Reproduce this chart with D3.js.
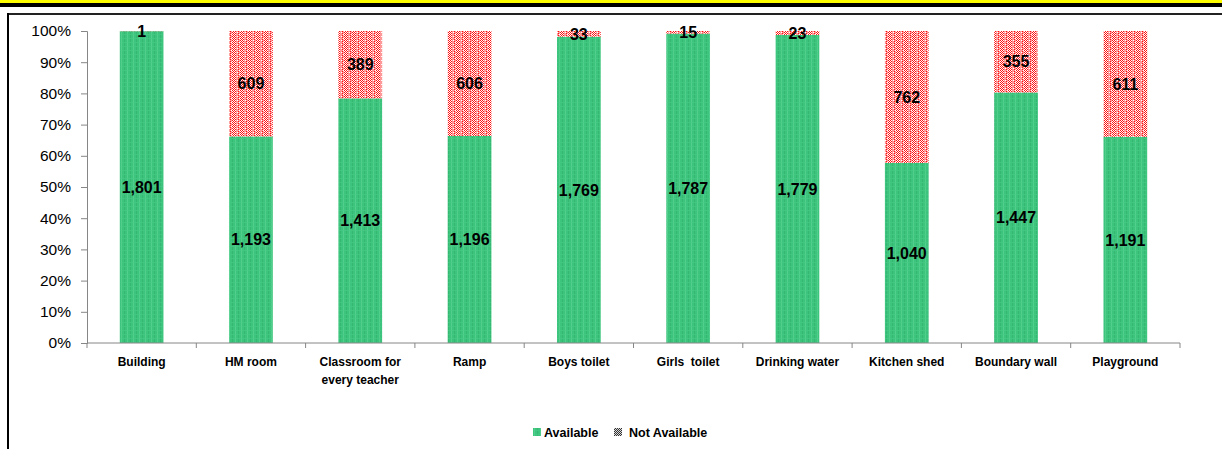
<!DOCTYPE html>
<html>
<head>
<meta charset="utf-8">
<script src="https://cdn.jsdelivr.net/npm/d3@7"></script>
<style>
  body { margin: 0; background: #fff; }
  svg { display: block; font-family: "Liberation Sans", Arial, sans-serif; }
</style>
</head>
<body>
<div id="chart"></div>
<script>
// data
const categories = ['Building', 'HM room', 'Classroom for\nevery teacher', 'Ramp', 'Boys toilet',
    'Girls  toilet', 'Drinking water', 'Kitchen shed', 'Boundary wall', 'Playground'];
const available = [1801, 1193, 1413, 1196, 1769, 1787, 1779, 1040, 1447, 1191];
const notAvailable = [1, 609, 389, 606, 33, 15, 23, 762, 355, 611];
const yTicks = [0, 0.1, 0.2, 0.3, 0.4, 0.5, 0.6, 0.7, 0.8, 0.9, 1];
const seriesNames = ['Available', 'Not Available'];

const width = 1222, height = 449;
const plot = { left: 87, right: 1180, top: 31, bottom: 343 };

const svg = d3.select('#chart').append('svg')
    .attr('width', width)
    .attr('height', height);

// patterns for the fills
const defs = svg.append('defs');

const green = defs.append('pattern')
    .attr('id', 'pGreen').attr('patternUnits', 'userSpaceOnUse')
    .attr('width', 6).attr('height', 4);
green.append('rect').attr('width', 6).attr('height', 4).attr('fill', '#3dc47c');
green.append('rect').attr('x', 1).attr('width', 1).attr('height', 4).attr('fill', '#52cf8c');
green.append('rect').attr('x', 4).attr('width', 1).attr('height', 4).attr('fill', '#34b872');
green.append('rect').attr('y', 2).attr('width', 6).attr('height', 1).attr('fill', '#47c985').attr('opacity', 0.7);

const red = defs.append('pattern')
    .attr('id', 'pRed').attr('patternUnits', 'userSpaceOnUse')
    .attr('width', 8).attr('height', 4);
red.append('rect').attr('width', 8).attr('height', 4).attr('fill', '#ff9999');
[[0, 0], [2, 0], [1, 1], [3, 1], [0, 2], [2, 2], [1, 3], [3, 3], [6, 1], [6, 3]].forEach(([x, y]) => {
    red.append('rect').attr('x', x).attr('y', y).attr('width', 1).attr('height', 1).attr('fill', '#ff1010');
});
[[1, 0], [3, 0], [0, 1], [2, 1], [1, 2], [3, 2], [0, 3], [2, 3], [5, 0], [7, 2]].forEach(([x, y]) => {
    red.append('rect').attr('x', x).attr('y', y).attr('width', 1).attr('height', 1).attr('fill', '#ffffff');
});

const grey = defs.append('pattern')
    .attr('id', 'pGrey').attr('patternUnits', 'userSpaceOnUse')
    .attr('width', 2).attr('height', 2);
grey.append('rect').attr('width', 2).attr('height', 2).attr('fill', '#d8d8d8');
grey.append('rect').attr('width', 1).attr('height', 1).attr('fill', '#333');
grey.append('rect').attr('x', 1).attr('y', 1).attr('width', 1).attr('height', 1).attr('fill', '#333');

// frame: yellow/black band on top, border line and left edge
svg.append('rect').attr('x', 0).attr('y', 0).attr('width', width).attr('height', 3).attr('fill', '#ffff00');
svg.append('rect').attr('x', 0).attr('y', 3).attr('width', width).attr('height', 4).attr('fill', '#000');
svg.append('rect').attr('x', 7).attr('y', 13).attr('width', width - 7).attr('height', 2).attr('fill', '#222');
svg.append('rect').attr('x', 7).attr('y', 13).attr('width', 2).attr('height', height - 13).attr('fill', '#000');

// scales
const x = d3.scaleBand()
    .domain(categories)
    .range([plot.left, plot.right])
    .paddingInner(0.6)
    .paddingOuter(0.3);

const y = d3.scaleLinear()
    .domain([0, 1])
    .range([plot.bottom, plot.top]);

const rows = categories.map((c, i) => {
    const total = available[i] + notAvailable[i];
    return { cat: c, a: available[i], n: notAvailable[i], pa: available[i] / total };
});

// bars
const g = svg.append('g');
g.selectAll('.avail').data(rows).join('rect')
    .attr('class', 'avail')
    .attr('x', d => x(d.cat))
    .attr('width', x.bandwidth())
    .attr('y', d => y(d.pa))
    .attr('height', d => y(0) - y(d.pa))
    .attr('fill', 'url(#pGreen)');

g.selectAll('.notavail').data(rows).join('rect')
    .attr('class', 'notavail')
    .attr('x', d => x(d.cat))
    .attr('width', x.bandwidth())
    .attr('y', y(1))
    .attr('height', d => y(d.pa) - y(1))
    .attr('fill', 'url(#pRed)');

// axes
const yAxis = svg.append('g')
    .attr('transform', `translate(${plot.left},0)`)
    .call(d3.axisLeft(y).tickValues(yTicks).tickFormat(d3.format('.0%')).tickSize(6).tickPadding(10));
yAxis.select('.domain').attr('stroke', '#868686');
yAxis.selectAll('.tick line').attr('stroke', '#868686');
yAxis.selectAll('.tick text').attr('font-size', 15.5).attr('fill', '#000')
    .attr('font-family', '"Liberation Sans", Arial, sans-serif');

const xAxis = svg.append('g')
    .attr('transform', `translate(0,${plot.bottom})`);
xAxis.append('line')
    .attr('x1', plot.left).attr('x2', plot.right)
    .attr('stroke', '#868686');
const step = x.step();
xAxis.selectAll('.xtick').data(d3.range(categories.length + 1)).join('line')
    .attr('class', 'xtick')
    .attr('x1', i => plot.left + i * step)
    .attr('x2', i => plot.left + i * step)
    .attr('y1', 0).attr('y2', 5)
    .attr('stroke', '#868686');

xAxis.selectAll('.xlabel').data(categories).join('text')
    .attr('class', 'xlabel')
    .attr('x', d => x(d) + x.bandwidth() / 2)
    .attr('y', 23)
    .attr('text-anchor', 'middle')
    .attr('font-size', 12)
    .attr('font-weight', 'bold')
    .selectAll('tspan')
    .data(d => d.split('\n'))
    .join('tspan')
        .attr('x', function () { return d3.select(this.parentNode).attr('x'); })
        .attr('dy', (d, i) => i === 0 ? 0 : 18)
        .style('white-space', 'pre')
        .text(d => d);

// data labels
const fmt = d3.format(',');
g.selectAll('.lblA').data(rows).join('text')
    .attr('class', 'lblA')
    .attr('x', d => x(d.cat) + x.bandwidth() / 2)
    .attr('y', d => (y(0) + y(d.pa)) / 2)
    .attr('dy', '0.36em')
    .attr('text-anchor', 'middle')
    .attr('font-size', 16)
    .attr('font-weight', 'bold')
    .text(d => fmt(d.a));

g.selectAll('.lblN').data(rows).join('text')
    .attr('class', 'lblN')
    .attr('x', d => x(d.cat) + x.bandwidth() / 2)
    .attr('y', d => (y(1) + y(d.pa)) / 2)
    .attr('dy', '0.36em')
    .attr('text-anchor', 'middle')
    .attr('font-size', 16)
    .attr('font-weight', 'bold')
    .text(d => fmt(d.n));

// legend
const legend = svg.append('g').attr('transform', 'translate(533,428)');
const legendX = [0, 81];
const legendFill = ['url(#pGreen)', 'url(#pGrey)'];
seriesNames.forEach((s, i) => {
    legend.append('rect')
        .attr('x', legendX[i]).attr('y', 0)
        .attr('width', 8).attr('height', 8)
        .attr('fill', legendFill[i]);
    legend.append('text')
        .attr('x', legendX[i] + (i === 0 ? 11 : 15)).attr('y', 8.5)
        .attr('font-size', 12.5)
        .attr('font-weight', 'bold')
        .text(s);
});
</script>
</body>
</html>
